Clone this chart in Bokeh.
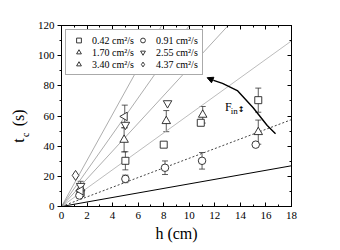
import math
from bokeh.plotting import figure
from bokeh.models import (Range1d, LinearAxis, Whisker, ColumnDataSource, Legend,
                          LegendItem, Label, Arrow, NormalHead, TeeHead, FixedTicker)
from bokeh.embed import file_html
from bokeh.resources import INLINE

FONT = "Liberation Serif"
NB = "\u00a0"

# ---- data ----
sq_h = [1.5, 5.0, 8.0, 10.9, 15.4]
sq_t = [9.0, 30.3, 41.0, 55.5, 70.5]
sq_e = [0.0, 6.0, 0.0, 0.0, 8.0]

ci_h = [1.4, 5.0, 8.1, 11.0, 15.2]
ci_t = [7.3, 18.3, 25.7, 30.3, 41.0]
ci_e = [0.0, 2.5, 4.5, 5.5, 0.0]

tu_h = [1.5, 4.9, 8.2, 11.05, 15.4]
tu_t = [12.0, 44.2, 56.6, 60.8, 49.3]
tu_e = [0.0, 8.0, 7.0, 5.5, 8.0]

td_h = [1.5, 5.0, 8.3]
td_t = [13.7, 54.2, 68.5]
td_e = [3.0, 0.0, 0.0]

tl_h = [1.5, 4.95]
tl_t = [10.5, 59.7]
tl_e = [0.0, 7.5]

di_h = [1.1]
di_t = [20.6]
di_e = [0.0]

labels = ["0.42 cm\u00b2/s", "0.91 cm\u00b2/s", "1.70 cm\u00b2/s",
          "2.55 cm\u00b2/s", "3.40 cm\u00b2/s", "4.37 cm\u00b2/s"]

slopes = [1.5, 3.2, 6.1, 9.2, 12.0, 15.3]
slope_colors = ["#000000", "#444444", "#b4b4b4", "#8a8a8a", "#8a8a8a", "#8a8a8a"]
slope_dash = ["solid", "2 2", "solid", "solid", "solid", "solid"]
slope_width = [1.0, 1.0, 0.9, 0.7, 0.7, 0.7]

arrow_h = [16.75, 16.1, 15.0, 13.76, 12.6, 11.9]
arrow_t = [48.2, 53.7, 65.5, 76.9, 81.6, 83.6]
arrow_tip = (11.4, 85.4)

x_ticks = [0, 2, 4, 6, 8, 10, 12, 14, 16, 18]
y_ticks = [0, 20, 40, 60, 80, 100, 120]

# ---- figure ----
p = figure(width=331, height=248, output_backend="svg", toolbar_location=None,
           x_range=Range1d(0, 18), y_range=Range1d(0, 120),
           min_border_left=61, min_border_right=40, min_border_top=25,
           min_border_bottom=42, x_axis_label="h (cm)")
p.grid.visible = False
p.outline_line_color = "black"
p.background_fill_color = "white"

# fan of reference lines through the origin
for s, c, d, w in zip(slopes, slope_colors, slope_dash, slope_width):
    p.line([0, 18], [0, s * 18], line_color=c, line_dash=d, line_width=w)

# error bars
def add_err(hs, ts, es):
    src = ColumnDataSource(dict(
        base=[h for h, e in zip(hs, es) if e > 0],
        upper=[t + e for t, e in zip(ts, es) if e > 0],
        lower=[t - e for t, e in zip(ts, es) if e > 0]))
    if len(src.data["base"]):
        wk = Whisker(source=src, base="base", upper="upper", lower="lower",
                     line_color="#333333", line_width=0.8,
                     upper_head=TeeHead(size=6, line_color="#333333", line_width=0.8),
                     lower_head=TeeHead(size=6, line_color="#333333", line_width=0.8))
        p.add_layout(wk)

series = [(sq_h, sq_t, sq_e, "square", 7),
          (ci_h, ci_t, ci_e, "circle", 7.5),
          (tu_h, tu_t, tu_e, "triangle", 8.5),
          (td_h, td_t, td_e, "inverted_triangle", 8.5),
          (tl_h, tl_t, tl_e, "triangle", 8.5),
          (di_h, di_t, di_e, "diamond", 10)]

renderers = []
for i, (hs, ts, es, mk, sz) in enumerate(series):
    add_err(hs, ts, es)
    if i == 4:
        r = p.scatter(hs, ts, marker=mk, size=sz, angle=math.pi / 2,
                      fill_color="white", line_color="#222222", line_width=0.9)
    else:
        r = p.scatter(hs, ts, marker=mk, size=sz,
                      fill_color="white", line_color="#222222", line_width=0.9)
    renderers.append(r)

# curved arrow
p.line(arrow_h, arrow_t, line_color="black", line_width=1.4)
p.add_layout(Arrow(end=NormalHead(size=6, fill_color="black", line_color="black"),
                   x_start=arrow_h[-1], y_start=arrow_t[-1],
                   x_end=arrow_tip[0], y_end=arrow_tip[1],
                   line_color="black", line_width=1.4))

# F_in label
p.add_layout(Label(x=12.8, y=61.5, text="F", text_font=FONT, text_font_size="12px",
                   text_color="black"))
p.add_layout(Label(x=13.25, y=59.8, text="in", text_font=FONT, text_font_size="9px",
                   text_color="black"))
p.add_layout(Label(x=13.8, y=61.5, text="\u2195", text_font="DejaVu Sans",
                   text_font_size="8px", text_font_style="bold", text_color="black"))

# legend
items = [LegendItem(label=l, renderers=[r]) for l, r in zip(labels, renderers)]
leg = Legend(items=items, location="top_left", orientation="horizontal", ncols=2,
             label_text_font=FONT, label_text_font_size="10px", label_text_color="black",
             label_height=12, glyph_height=12, glyph_width=17, label_standoff=5,
             spacing=0, padding=4, margin=4,
             border_line_color="#555555", border_line_width=1,
             background_fill_color="white", background_fill_alpha=1.0)
p.add_layout(leg)

# axes styling
for ax in [p.xaxis[0], p.yaxis[0]]:
    ax.major_label_text_font = FONT
    ax.major_label_text_font_size = "11px"
    ax.major_label_text_color = "black"
    ax.axis_label_text_font = FONT
    ax.axis_label_text_font_size = "16px"
    ax.axis_label_text_font_style = "normal"
    ax.axis_label_text_color = "black"
    ax.axis_line_color = "black"
    ax.major_tick_line_color = "black"
    ax.minor_tick_line_color = "black"

p.xaxis[0].ticker = FixedTicker(ticks=x_ticks, minor_ticks=list(range(0, 19)))
p.yaxis[0].ticker = FixedTicker(ticks=y_ticks, minor_ticks=list(range(0, 121, 10)))
p.xaxis[0].major_tick_in = 4
p.xaxis[0].major_tick_out = 0
p.xaxis[0].minor_tick_in = 2
p.xaxis[0].minor_tick_out = 0
p.xaxis[0].major_label_standoff = 5
p.xaxis[0].axis_label_standoff = 3
p.yaxis[0].major_tick_in = 0
p.yaxis[0].major_tick_out = 4
p.yaxis[0].minor_tick_in = 0
p.yaxis[0].minor_tick_out = 2
p.yaxis[0].major_label_standoff = 3

# y-axis label t_c (s): subscript "c" is the inner axis label,
# "t (s)" sits on an outer, tick-less axis pulled in with a negative standoff
p.yaxis[0].axis_label = "c" + NB * 15
p.yaxis[0].axis_label_text_font_size = "10px"
p.yaxis[0].axis_label_standoff = 4

outer = LinearAxis(ticker=FixedTicker(ticks=[]), axis_line_color=None,
                   major_tick_in=0, major_tick_out=0, minor_tick_in=0, minor_tick_out=0,
                   major_label_text_font_size="0px",
                   axis_label="t" + NB * 3 + "(s)" + NB * 5,
                   axis_label_text_font=FONT, axis_label_text_font_size="16px",
                   axis_label_text_font_style="normal", axis_label_text_color="black",
                   axis_label_standoff=-10)
p.add_layout(outer, "left")

# mirrored axes (ticks only)
top = LinearAxis(ticker=FixedTicker(ticks=x_ticks, minor_ticks=list(range(0, 19))),
                 major_label_text_font_size="0px", major_tick_in=4, major_tick_out=0,
                 minor_tick_in=2, minor_tick_out=0, axis_line_color="black")
right = LinearAxis(ticker=FixedTicker(ticks=y_ticks, minor_ticks=list(range(0, 121, 10))),
                   major_label_text_font_size="0px", major_tick_in=4, major_tick_out=0,
                   minor_tick_in=2, minor_tick_out=0, axis_line_color="black")
top.major_label_text_alpha = 0
right.major_label_text_alpha = 0
p.add_layout(top, "above")
p.add_layout(right, "right")

open("out.html", "w").write(file_html(p, INLINE))
